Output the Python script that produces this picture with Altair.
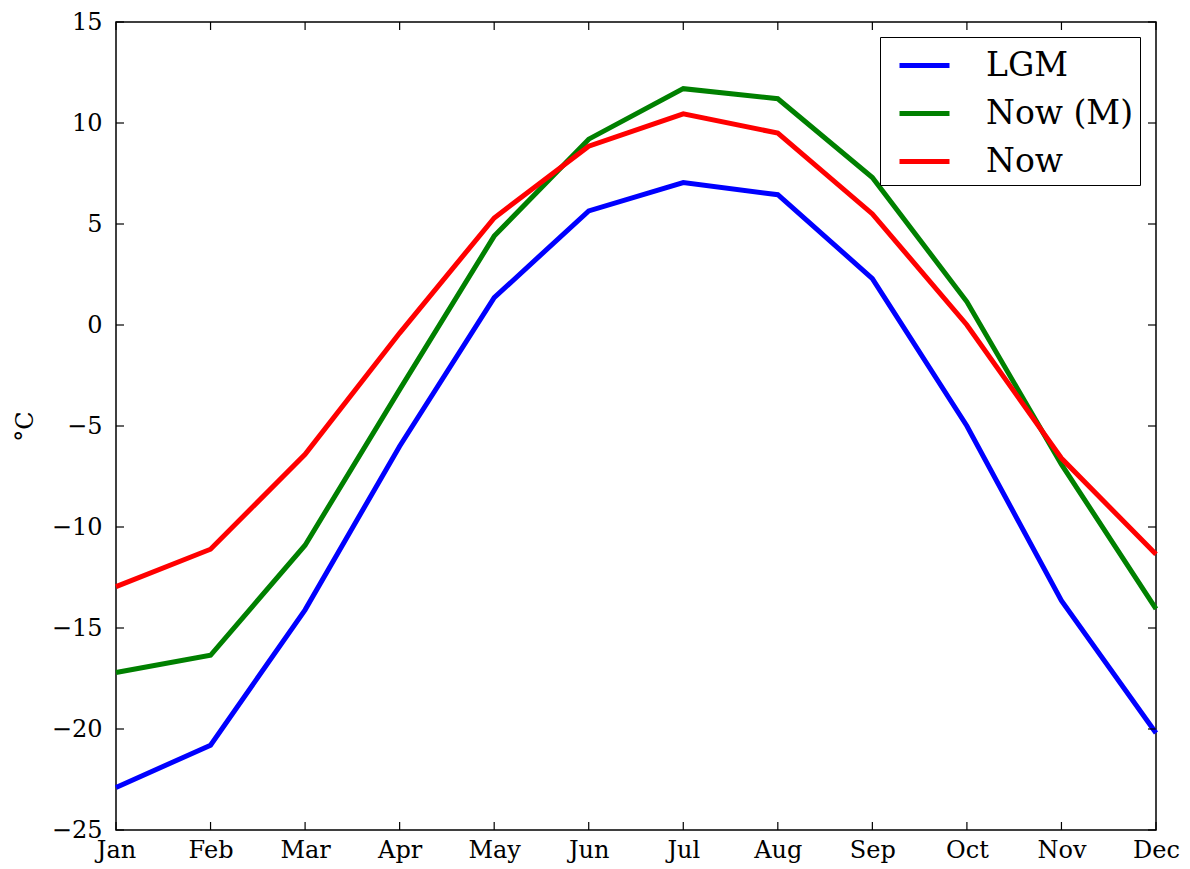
import altair as alt
import pandas as pd

months = ["Jan", "Feb", "Mar", "Apr", "May", "Jun", "Jul", "Aug", "Sep", "Oct", "Nov", "Dec"]
series_names = ["LGM", "Now (M)", "Now"]
lgm = [-22.9, -20.8, -14.1, -6.0, 1.35, 5.65, 7.05, 6.45, 2.3, -5.0, -13.65, -20.2]
now_m = [-17.2, -16.35, -10.9, -3.2, 4.4, 9.2, 11.7, 11.2, 7.3, 1.15, -6.9, -14.05]
now = [-12.95, -11.1, -6.4, -0.4, 5.3, 8.85, 10.45, 9.5, 5.5, 0.0, -6.6, -11.35]
colors = ["#0000ff", "#008000", "#ff0000"]
y_ticks = [-25, -20, -15, -10, -5, 0, 5, 10, 15]

rows = []
for name, vals in zip(series_names, [lgm, now_m, now]):
    for m, v in zip(months, vals):
        rows.append({"month": m, "value": v, "series": name})
df = pd.DataFrame(rows)

W, H = 1040, 808
FONT = "DejaVu Serif"

xscale = alt.Scale(type="point", padding=0, domain=months)
yscale = alt.Scale(domain=[-25, 15], nice=False, zero=False)

lines = alt.Chart(df).mark_line(strokeWidth=5, strokeJoin="miter").encode(
    x=alt.X("month:N", scale=xscale, sort=months,
            axis=alt.Axis(title=None, labelAngle=0, ticks=False, labelPadding=8,
                          labelFontSize=24, labelFont=FONT, labelColor="black",
                          domain=False, grid=False)),
    y=alt.Y("value:Q", scale=yscale,
            axis=alt.Axis(title="°C", values=y_ticks, ticks=False, labelPadding=14,
                          labelFontSize=24, labelFont=FONT, labelColor="black",
                          labelExpr="replace(format(datum.value, 'd'), '-', '−')",
                          titleFont=FONT, titleFontSize=24, titleFontWeight="normal",
                          titleColor="black", titlePadding=14,
                          domain=False, grid=False)),
    color=alt.Color("series:N", scale=alt.Scale(domain=series_names, range=colors),
                    sort=series_names,
                    legend=alt.Legend(title=None, orient="none", legendX=764, legendY=15,
                                      symbolType="M-0.45,0H2.05", symbolSize=1600,
                                      symbolStrokeWidth=5,
                                      labelFont=FONT, labelFontSize=33, labelColor="black",
                                      labelOffset=55, rowPadding=8, padding=6,
                                      strokeColor="black", fillColor="white",
                                      labelLimit=300)),
    order=alt.Order("month_idx:Q"),
).transform_calculate(month_idx="indexof(" + str(months) + ", datum.month)")

ytick_df = pd.DataFrame({"v": y_ticks})
xtick_df = pd.DataFrame({"month": months})

yt_left = alt.Chart(ytick_df).mark_rule(color="black", strokeWidth=1.2).encode(
    y=alt.Y("v:Q", scale=yscale), x=alt.value(0), x2=alt.value(8))
yt_right = alt.Chart(ytick_df).mark_rule(color="black", strokeWidth=1.2).encode(
    y=alt.Y("v:Q", scale=yscale), x=alt.value(W - 8), x2=alt.value(W))
xt_bot = alt.Chart(xtick_df).mark_rule(color="black", strokeWidth=1.2).encode(
    x=alt.X("month:N", scale=xscale, sort=months), y=alt.value(H), y2=alt.value(H - 8))
xt_top = alt.Chart(xtick_df).mark_rule(color="black", strokeWidth=1.2).encode(
    x=alt.X("month:N", scale=xscale, sort=months), y=alt.value(0), y2=alt.value(8))

chart = alt.layer(lines, yt_left, yt_right, xt_bot, xt_top).properties(
    width=W, height=H,
    background="white",
    autosize=alt.AutoSizeParams(type="none"),
    padding={"left": 108, "top": 14, "right": 26, "bottom": 40},
).configure_view(stroke="black", strokeWidth=1.5)

chart.save("out.html", embed_options={"renderer": "svg", "actions": False})
